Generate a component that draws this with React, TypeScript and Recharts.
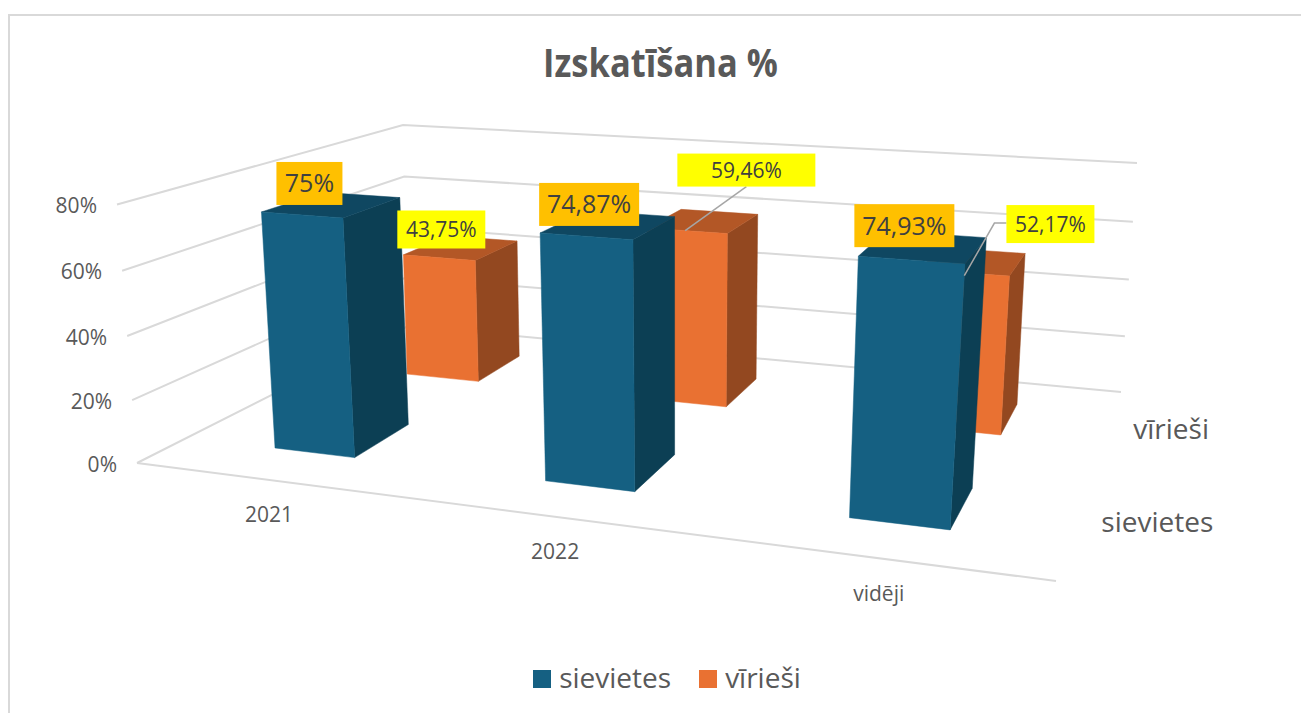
import { BarChart, Bar, XAxis, YAxis, CartesianGrid, Legend } from 'recharts'

const categories = ['2021', '2022', 'vidēji']
const sievietesValues = [75, 74.87, 74.93]
const viriesiValues = [43.75, 59.46, 52.17]
const yTicks = [0, 20, 40, 60, 80]
const depthLabels = ['sievietes', 'vīrieši']

const chartData = categories.map((name, i) => ({
  name,
  sievietes: sievietesValues[i],
  'vīrieši': viriesiValues[i],
}))

// plot area that recharts scales into, the projection below maps it to the 3D box
const PLOT = { left: 100, top: 100, width: 1000, height: 400 }
const BAR_SIZE = 102

type Pt = [number, number]

// corners of the chart box on screen: front-left, front-right, back-right, back-left
const FLOOR: Pt[] = [[137, 463], [1056, 581], [1121, 392], [408, 326]]
const CEILING: Pt[] = [[117, 204.5], [1082, 277], [1137, 163], [403, 125]]

function makeHomography([A, B, C, D]: Pt[]) {
  const sx = A[0] - B[0] + C[0] - D[0]
  const sy = A[1] - B[1] + C[1] - D[1]
  const dx1 = B[0] - C[0]
  const dx2 = D[0] - C[0]
  const dy1 = B[1] - C[1]
  const dy2 = D[1] - C[1]
  const det = dx1 * dy2 - dx2 * dy1
  const g = (sx * dy2 - dx2 * sy) / det
  const h = (dx1 * sy - sx * dy1) / det
  const a = B[0] - A[0] + g * B[0]
  const b = D[0] - A[0] + h * D[0]
  const d = B[1] - A[1] + g * B[1]
  const e = D[1] - A[1] + h * D[1]
  return (u: number, v: number): Pt => {
    const q = g * u + h * v + 1
    return [(a * u + b * v + A[0]) / q, (d * u + e * v + A[1]) / q]
  }
}

const floorAt = makeHomography(FLOOR)
const ceilingAt = makeHomography(CEILING)

// u: along categories, v: depth, w: height (all 0..1)
function project(u: number, v: number, w: number): Pt {
  const f = floorAt(u, v)
  const c = ceilingAt(u, v)
  // slight foreshortening of the height, the gridlines get closer towards the floor
  const t = w - 0.035 * w * (1 - w)
  return [f[0] + (c[0] - f[0]) * t, f[1] + (c[1] - f[1]) * t]
}

const toU = (px: number) => (px - PLOT.left) / PLOT.width
const toW = (py: number) => (PLOT.top + PLOT.height - py) / PLOT.height
const pts = (list: Pt[]) => list.map(p => p.join(',')).join(' ')

const BLUE = { front: '#156082', side: '#0C3F54', top: '#0F4761', depth: [0.15, 0.35] }
const ORANGE = { front: '#E97132', side: '#934820', top: '#B35726', depth: [0.65, 0.85] }

function makeBox(style: typeof BLUE) {
  return (props: any) => {
    const { x, y, width } = props
    const [u0, u1] = [toU(x), toU(x + width)]
    const w = toW(y)
    const [v0, v1] = style.depth
    const front = [project(u0, v0, 0), project(u1, v0, 0), project(u1, v0, w), project(u0, v0, w)]
    const side = [project(u1, v0, 0), project(u1, v1, 0), project(u1, v1, w), project(u1, v0, w)]
    const top = [project(u0, v0, w), project(u1, v0, w), project(u1, v1, w), project(u0, v1, w)]
    return (
      <g>
        <polygon points={pts(side)} fill={style.side} stroke={style.side} strokeWidth={0.5} />
        <polygon points={pts(top)} fill={style.top} stroke={style.top} strokeWidth={0.5} />
        <polygon points={pts(front)} fill={style.front} stroke={style.front} strokeWidth={0.5} />
      </g>
    )
  }
}

const formatPct = (v: number) => String(v).replace('.', ',') + '%'

// label box placement relative to the top front corner of the bar
const blueLabelBoxes = [
  { dx: 15, dy: -50, w: 66, h: 43 },
  { dx: -1, dy: -50, w: 100, h: 43 },
  { dx: -4, dy: -52, w: 100, h: 43 },
]
const orangeLabelBoxes = [
  { dx: -78, dy: -50, w: 88, h: 38 },
  { dx: -50, dy: -80, w: 138, h: 33 },
  { dx: -3, dy: -71, w: 88, h: 38 },
]
const LEADER = '#A6A6A6'

function BlueLabel(props: any) {
  const { x, y, index, value } = props
  const [px, py] = project(toU(x), BLUE.depth[0], toW(y))
  const b = blueLabelBoxes[index]
  const val = Array.isArray(value) ? value[1] : value
  return (
    <g>
      <rect x={px + b.dx} y={py + b.dy} width={b.w} height={b.h} fill="#FFC000" />
      <text x={px + b.dx + b.w / 2} y={py + b.dy + b.h / 2} dy="0.36em" textAnchor="middle" fontSize={25} fill="#404040">
        {formatPct(val)}
      </text>
    </g>
  )
}

function OrangeLabel(props: any) {
  const { x, y, width, index, value } = props
  const [px, py] = project(toU(x + width), ORANGE.depth[0], toW(y))
  const b = orangeLabelBoxes[index]
  const val = Array.isArray(value) ? value[1] : value
  const bx = px + b.dx
  const by = py + b.dy
  let leader = null
  if (index === 1) {
    // leader from the box down to the orange bar
    const end = project(toU(x + width * 0.48), ORANGE.depth[0], toW(y))
    leader = <polyline points={pts([[bx + 69, by + b.h], end])} fill="none" stroke={LEADER} strokeWidth={1.5} />
  }
  if (index === 2) {
    // this one ends on the top front corner of the blue bar
    const end = project(toU(x + width), BLUE.depth[0], toW(y) * 1.375)
    leader = <polyline points={pts([[bx, by + 18], [bx - 12, by + 18], end])} fill="none" stroke={LEADER} strokeWidth={1.5} />
  }
  return (
    <g>
      {leader}
      <rect x={bx} y={by} width={b.w} height={b.h} fill="#FFFF00" />
      <text x={bx + b.w / 2} y={by + b.h / 2} dy="0.36em" textAnchor="middle" fontSize={21} fill="#404040">
        {formatPct(val)}
      </text>
    </g>
  )
}

function GridLine(props: any) {
  const w = toW(props.y1)
  const frontLeft = project(0, 0, w)
  const backLeft = project(0, 1, w)
  const backRight = project(1, 1, w)
  const isFloor = Math.abs(w) < 0.001
  return (
    <g key={props.key}>
      <polyline points={pts([frontLeft, backLeft, backRight])} fill="none" stroke="#D9D9D9" strokeWidth={2} />
      {isFloor && (
        <polyline points={pts([frontLeft, project(1, 0, 0)])} fill="none" stroke="#D9D9D9" strokeWidth={2} />
      )}
      {isFloor &&
        depthLabels.map((label, i) => {
          const [px, py] = project(1, 0.25 + i * 0.5, 0)
          return (
            <text key={label} x={px + 25} y={py} dy="0.36em" fontSize={28} fill="#595959">
              {label}
            </text>
          )
        })}
    </g>
  )
}

function CategoryTick(props: any) {
  const [px, py] = project(toU(props.x), 0, 0)
  return (
    <text x={px + 1} y={py + 35} dy="0.36em" textAnchor="middle" fontSize={21} fill="#595959">
      {props.payload.value}
    </text>
  )
}

function ValueTick(props: any) {
  const [px, py] = project(0, 0, toW(props.y))
  return (
    <text x={px - 20} y={py + 1} dy="0.36em" textAnchor="end" fontSize={21} fill="#595959">
      {props.payload.value}%
    </text>
  )
}

const legendText = (value: string) => (
  <span style={{ color: '#595959', fontSize: 28, marginLeft: 4, marginRight: 18, position: 'relative', top: 5 }}>{value}</span>
)

export default function App() {
  return (
    <div
      style={{
        position: 'absolute',
        left: 0,
        top: 0,
        width: 1301,
        height: 713,
        overflow: 'hidden',
        background: '#fff',
        fontFamily: '"Open Sans", sans-serif',
      }}
    >
      <div
        style={{
          position: 'absolute',
          left: 8,
          top: 14,
          width: 1400,
          height: 800,
          borderLeft: '2px solid #D9D9D9',
          borderTop: '2px solid #D9D9D9',
        }}
      />
      <div
        style={{
          position: 'absolute',
          left: 0,
          width: 1321,
          top: 37,
          textAlign: 'center',
          fontSize: 39,
          lineHeight: '50px',
          fontWeight: 700,
          color: '#595959',
          transform: 'scaleX(0.885)',
        }}
      >
        Izskatīšana %
      </div>
      <BarChart
        width={1301}
        height={713}
        data={chartData}
        margin={{
          left: PLOT.left - 1,
          top: PLOT.top,
          right: 1301 - PLOT.left - PLOT.width,
          bottom: 713 - PLOT.top - PLOT.height - 1,
        }}
        barSize={BAR_SIZE}
        barGap={-BAR_SIZE}
        style={{ position: 'absolute', left: 0, top: 0 }}
      >
        <CartesianGrid vertical={false} horizontal={GridLine} />
        <XAxis dataKey="name" height={1} axisLine={false} tickLine={false} interval={0} tick={CategoryTick} />
        <YAxis width={1} domain={[0, 80]} ticks={yTicks} axisLine={false} tickLine={false} interval={0} tick={ValueTick} />
        <Legend
          layout="horizontal"
          verticalAlign="middle"
          align="center"
          iconType="square"
          iconSize={18}
          width={400}
          formatter={legendText}
          wrapperStyle={{ left: 481, top: 653 }}
        />
        {/* back row first so the front row paints over it */}
        <Bar dataKey="vīrieši" fill={ORANGE.front} shape={makeBox(ORANGE)} isAnimationActive={false} />
        <Bar dataKey="sievietes" fill={BLUE.front} shape={makeBox(BLUE)} isAnimationActive={false} />
        <Bar dataKey="vīrieši" legendType="none" shape={OrangeLabel} isAnimationActive={false} />
        <Bar dataKey="sievietes" legendType="none" shape={BlueLabel} isAnimationActive={false} />
      </BarChart>
    </div>
  )
}
